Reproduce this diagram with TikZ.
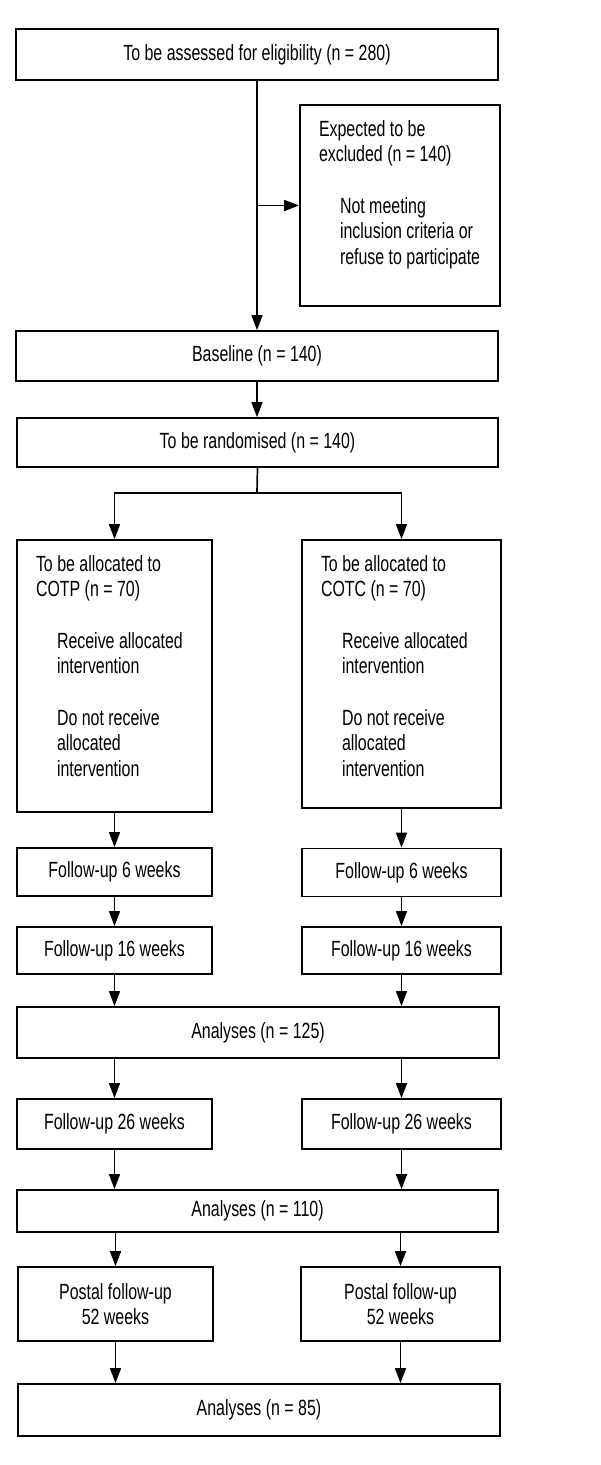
\documentclass[tikz,border=0pt]{standalone}
\usepackage{fontspec}
\setmainfont[FakeStretch=0.725]{Liberation Sans}
\usetikzlibrary{arrows.meta}
\newcommand{\ind}{\hspace*{21pt}}
\newcommand{\toptext}[3]{\parbox[c][#2][t]{#1}{\raggedright\leftskip=19pt\rule{0pt}{31pt}#3}}

\begin{document}
\begin{tikzpicture}[x=1pt,y=-1pt,
  every node/.style={font=\fontsize{22}{25.7}\selectfont},
  box/.style={draw,line width=1.8pt,inner sep=0pt},
  arr/.style={line width=1.7pt,-{Triangle[length=15pt,width=11pt]}}]
\useasboundingbox (0,0) rectangle (600,1465);

\node[box,minimum width=482pt,minimum height=51pt] (elig) at (257,54.5) {To be assessed for eligibility (n = 280)};
\node[box] (excl) at (400,205.5) {\toptext{200pt}{201pt}{Expected to be\\excluded (n = 140)\\[25.7pt]\ind Not meeting\\\ind inclusion criteria or\\\ind refuse to participate}};
\node[box,minimum width=482pt,minimum height=50pt] (base) at (257,356) {Baseline (n = 140)};
\node[box,minimum width=481pt,minimum height=49pt] (rand) at (257.5,442.5) {To be randomised (n = 140)};
\coordinate (split) at (257,493);

\node[box] (allocP) at (114.5,676) {\toptext{195pt}{272pt}{To be allocated to\\COTP (n = 70)\\[25.7pt]\ind Receive allocated\\\ind intervention\\[25.7pt]\ind Do not receive\\\ind allocated\\\ind intervention}};
\node[box] (allocC) at (401.5,674) {\toptext{199pt}{268pt}{To be allocated to\\COTC (n = 70)\\[25.7pt]\ind Receive allocated\\\ind intervention\\[25.7pt]\ind Do not receive\\\ind allocated\\\ind intervention}};

\node[box,minimum width=195pt,minimum height=48pt] (fu6P) at (114.5,872) {Follow-up 6 weeks};
\node[box,minimum width=199pt,minimum height=48pt] (fu6C) at (401.5,872.5) {Follow-up 6 weeks};
\node[box,minimum width=195pt,minimum height=47pt] (fu16P) at (114.5,950.5) {Follow-up 16 weeks};
\node[box,minimum width=199pt,minimum height=47pt] (fu16C) at (401.5,950.5) {Follow-up 16 weeks};
\node[box,minimum width=482pt,minimum height=51pt] (an125) at (258,1032.5) {Analyses (n = 125)};
\node[box,minimum width=195pt,minimum height=50pt] (fu26P) at (114.5,1124) {Follow-up 26 weeks};
\node[box,minimum width=199pt,minimum height=50pt] (fu26C) at (401.5,1124) {Follow-up 26 weeks};
\node[box,minimum width=481pt,minimum height=42pt] (an110) at (257.5,1211) {Analyses (n = 110)};
\node[box,align=center,minimum width=195pt,minimum height=74pt] (postP) at (115.5,1304) {Postal follow-up\\52 weeks};
\node[box,align=center,minimum width=199pt,minimum height=74pt] (postC) at (400.5,1304) {Postal follow-up\\52 weeks};
\node[box,minimum width=482pt,minimum height=52pt] (an85) at (259,1410) {Analyses (n = 85)};

\draw[arr] (elig.south) -- (base.north);
\draw[arr] (elig.south |- excl.west) -- (excl.west);
\draw[arr] (base.south) -- (base.south |- rand.north);
\draw[line width=1.7pt] (rand.south) -- (split);
\draw[arr] (split) -| (allocP.north);
\draw[arr] (split) -| (allocC.north);

\draw[arr] (allocP.south) -- (fu6P.north);
\draw[arr] (allocC.south) -- (fu6C.north);
\draw[arr] (fu6P.south) -- (fu16P.north);
\draw[arr] (fu6C.south) -- (fu16C.north);
\draw[arr] (fu16P.south) -- (fu16P.south |- an125.north);
\draw[arr] (fu16C.south) -- (fu16C.south |- an125.north);
\draw[arr] (an125.south -| fu26P.north) -- (fu26P.north);
\draw[arr] (an125.south -| fu26C.north) -- (fu26C.north);
\draw[arr] (fu26P.south) -- (fu26P.south |- an110.north);
\draw[arr] (fu26C.south) -- (fu26C.south |- an110.north);
\draw[arr] (an110.south -| postP.north) -- (postP.north);
\draw[arr] (an110.south -| postC.north) -- (postC.north);
\draw[arr] (postP.south) -- (postP.south |- an85.north);
\draw[arr] (postC.south) -- (postC.south |- an85.north);
\end{tikzpicture}
\end{document}
